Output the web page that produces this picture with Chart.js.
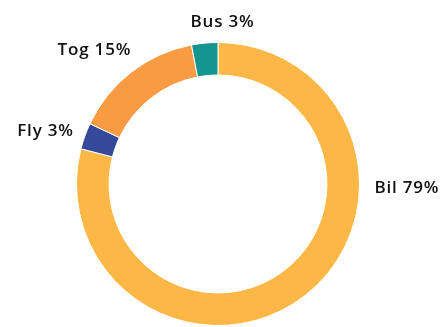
<!DOCTYPE html>
<html>
<head>
<meta charset="utf-8">
<script src="https://cdn.jsdelivr.net/npm/chart.js@4"></script>
<style>
  html, body { margin: 0; padding: 0; background: #fff; }
  #wrap { width: 442px; height: 327px; position: relative; }
</style>
</head>
<body>
<div id="wrap"><canvas id="c"></canvas></div>
<script>
// Travel mode shares (percent)
const categories = ['Bil', 'Fly', 'Tog', 'Bus'];
const shares = [79, 3, 15, 3];
const colors = ['#FDB747', '#34499A', '#F99B42', '#14958F'];

// Label placement around the ring: angle (deg, clockwise from top), gap from outer edge, alignment
const labelPlacement = [
  { angle: 91.5, gap: 15, align: 'left' },
  { angle: -70, gap: 12, align: 'right' },
  { angle: -33, gap: 18, align: 'right' },
  { angle: 1.6, gap: 20, align: 'center' }
];

const ringLabels = {
  id: 'ringLabels',
  afterDatasetsDraw(chart) {
    const meta = chart.getDatasetMeta(0);
    const arc = meta.data[0];
    const { x: cx, y: cy, outerRadius } = arc.getProps(['x', 'y', 'outerRadius'], true);
    const ctx = chart.ctx;
    ctx.save();
    ctx.font = '600 17px "Open Sans", "Noto Sans", sans-serif';
    if ('letterSpacing' in ctx) ctx.letterSpacing = '0.8px';
    ctx.fillStyle = '#111';
    ctx.textBaseline = 'middle';
    categories.forEach((name, i) => {
      const p = labelPlacement[i];
      const a = p.angle * Math.PI / 180;
      const r = outerRadius + p.gap;
      const x = cx + Math.sin(a) * r;
      const y = cy - Math.cos(a) * r;
      ctx.textAlign = p.align;
      ctx.fillText(name + ' ' + shares[i] + '%', x, y);
    });
    ctx.restore();
  }
};

new Chart(document.getElementById('c'), {
  type: 'doughnut',
  data: {
    labels: categories,
    datasets: [{
      data: shares,
      backgroundColor: colors,
      borderColor: '#ffffff',
      borderWidth: 1
    }]
  },
  options: {
    responsive: true,
    maintainAspectRatio: false,
    animation: false,
    cutout: '77%',
    layout: { padding: { left: 76, right: 82, top: 42, bottom: 1 } },
    plugins: {
      legend: { display: false },
      tooltip: { enabled: false }
    }
  },
  plugins: [ringLabels]
});
</script>
</body>
</html>
